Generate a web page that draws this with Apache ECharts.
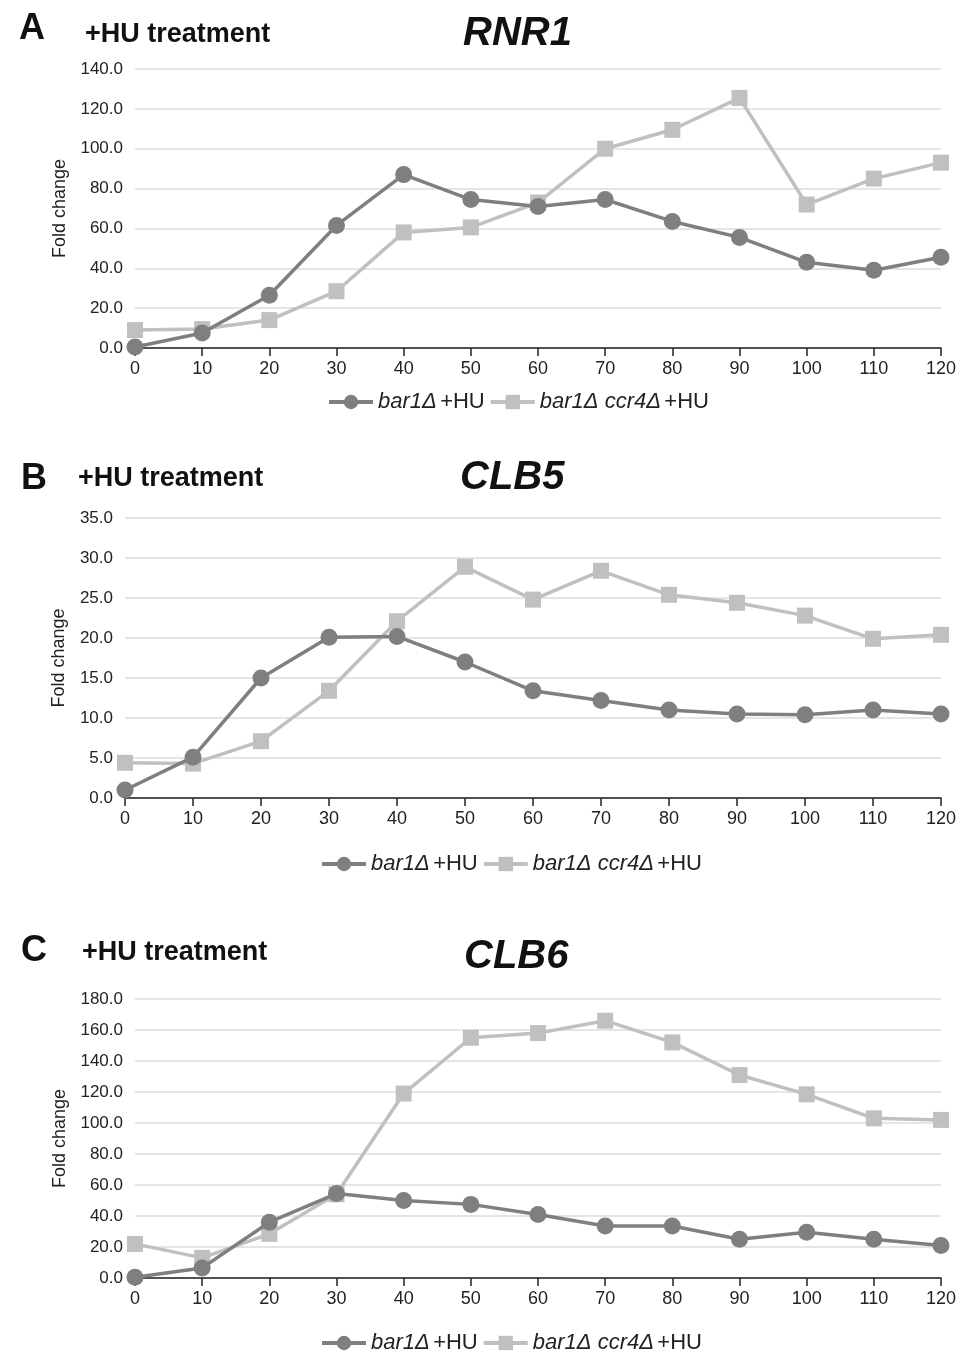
<!DOCTYPE html>
<html>
<head>
<meta charset="utf-8">
<script src="https://cdn.jsdelivr.net/npm/echarts@6/dist/echarts.min.js"></script>
<style>
html,body{margin:0;padding:0;background:#fff;}
#c{width:966px;height:1354px;}
</style>
</head>
<body>
<div id="c"></div>
<script>
const timePoints = ['0','10','20','30','40','50','60','70','80','90','100','110','120'];
const seriesNames = ['bar1Δ +HU', 'bar1Δ ccr4Δ +HU'];
const panelLetters = ['A','B','C'];
const geneNames = ['RNR1','CLB5','CLB6'];
const yMax = [140, 35, 180];
const yStep = [20, 5, 20];

const rnr1_bar1 = [0.5, 7.5, 26.5, 61.5, 87, 74.5, 71, 74.5, 63.5, 55.5, 43, 39, 45.5];
const rnr1_ccr4 = [9, 9.5, 14, 28.5, 58, 60.5, 73, 100, 109.5, 125.5, 72, 85, 93];
const clb5_bar1 = [1.0, 5.1, 15.0, 20.1, 20.2, 17.0, 13.4, 12.2, 11.0, 10.5, 10.4, 11.0, 10.5];
const clb5_ccr4 = [4.4, 4.3, 7.1, 13.4, 22.1, 28.9, 24.8, 28.4, 25.4, 24.4, 22.8, 19.9, 20.4];
const clb6_bar1 = [0.5, 6.5, 36, 54.5, 50, 47.5, 41, 33.5, 33.5, 25, 29.5, 25, 21];
const clb6_ccr4 = [22, 13, 28.5, 54, 119, 155, 158, 166, 152, 131, 118.5, 103, 102];

const data = [[rnr1_bar1, rnr1_ccr4],[clb5_bar1, clb5_ccr4],[clb6_bar1, clb6_ccr4]];

const grids = [
  {left:135, right:25, top:69, height:279},
  {left:125, right:25, top:518, height:280},
  {left:135, right:25, top:999, height:279}
];
const titlePos = [
  {letterTop:6, hdrTop:16, geneLeft:458, geneTop:9, letterLeft:14, hdrLeft:80},
  {letterTop:456, hdrTop:460, geneLeft:455, geneTop:453, letterLeft:16, hdrLeft:73},
  {letterTop:928, hdrTop:934, geneLeft:459, geneTop:932, letterLeft:16, hdrLeft:77}
];
const legendTop = [386, 848, 1327];
const legendLeft = [322, 315, 315];

const colors = ['#7f7f7f', '#c0c0c0'];
const narrow = '"Liberation Sans Narrow", "Arial Narrow", "Liberation Sans", Arial, sans-serif';
const sans = '"Liberation Sans", Arial, sans-serif';

const option = {
  animation:false,
  backgroundColor:'#fff',
  title:[], grid:[], xAxis:[], yAxis:[], series:[], legend:[]
};

for (let p=0;p<3;p++){
  const tp = titlePos[p];
  option.title.push({text:panelLetters[p], left:tp.letterLeft, top:tp.letterTop,
    textStyle:{fontFamily:sans, fontWeight:'bold', fontSize:36, color:'#111'}});
  option.title.push({text:'+HU treatment', left:tp.hdrLeft, top:tp.hdrTop,
    textStyle:{fontFamily:narrow, fontWeight:'bold', fontSize:27, color:'#111'}});
  option.title.push({text:geneNames[p], left:tp.geneLeft, top:tp.geneTop,
    textStyle:{fontFamily:narrow, fontWeight:'bold', fontStyle:'italic', fontSize:40, color:'#111'}});

  option.grid.push(Object.assign({containLabel:false}, grids[p]));
  option.xAxis.push({
    type:'category', gridIndex:p, data:timePoints, boundaryGap:false,
    axisLine:{lineStyle:{color:'#222', width:1.5}},
    axisTick:{show:true, length:8, lineStyle:{color:'#222', width:1.5}},
    axisLabel:{fontFamily:narrow, fontSize:18, color:'#222', margin:12},
    splitLine:{show:false}
  });
  option.yAxis.push({
    type:'value', gridIndex:p, min:0, max:yMax[p], interval:yStep[p],
    name:'Fold change', nameLocation:'middle', nameGap:p===1?57:66, nameRotate:90,
    nameTextStyle:{fontFamily:sans, fontSize:18, color:'#222'},
    axisLine:{show:false}, axisTick:{show:false},
    axisLabel:{fontFamily:narrow, fontSize:17, color:'#222', margin:12,
      formatter:v=>v.toFixed(1)},
    splitLine:{lineStyle:{color:'#dcdcdc', width:1.5}}
  });
  for (let s=0;s<2;s++){
    option.series.push({
      name:seriesNames[s], type:'line', xAxisIndex:p, yAxisIndex:p,
      data:data[p][s], symbol:s===0?'circle':'rect', symbolSize:s===0?17:16,
      itemStyle:{color:colors[s]}, lineStyle:{color:colors[s], width:3.5},
      z: s===0?3:2
    });
  }
  option.legend.push({
    left:legendLeft[p], top:legendTop[p], itemGap:4, itemWidth:44, itemHeight:18,
    data:seriesNames,
    lineStyle:{width:4},
    formatter:function(n){
      if (n===seriesNames[0]) return '{i|bar1Δ} {n|+HU}';
      return '{i|bar1Δ ccr4Δ} {n|+HU}';
    },
    textStyle:{rich:{
      i:{fontFamily:sans, fontStyle:'italic', fontSize:22, color:'#222'},
      n:{fontFamily:sans, fontSize:22, color:'#222'}
    }}
  });
}

const chart = echarts.init(document.getElementById('c'), null, {renderer:'canvas'});
chart.setOption(option);
</script>
</body>
</html>
